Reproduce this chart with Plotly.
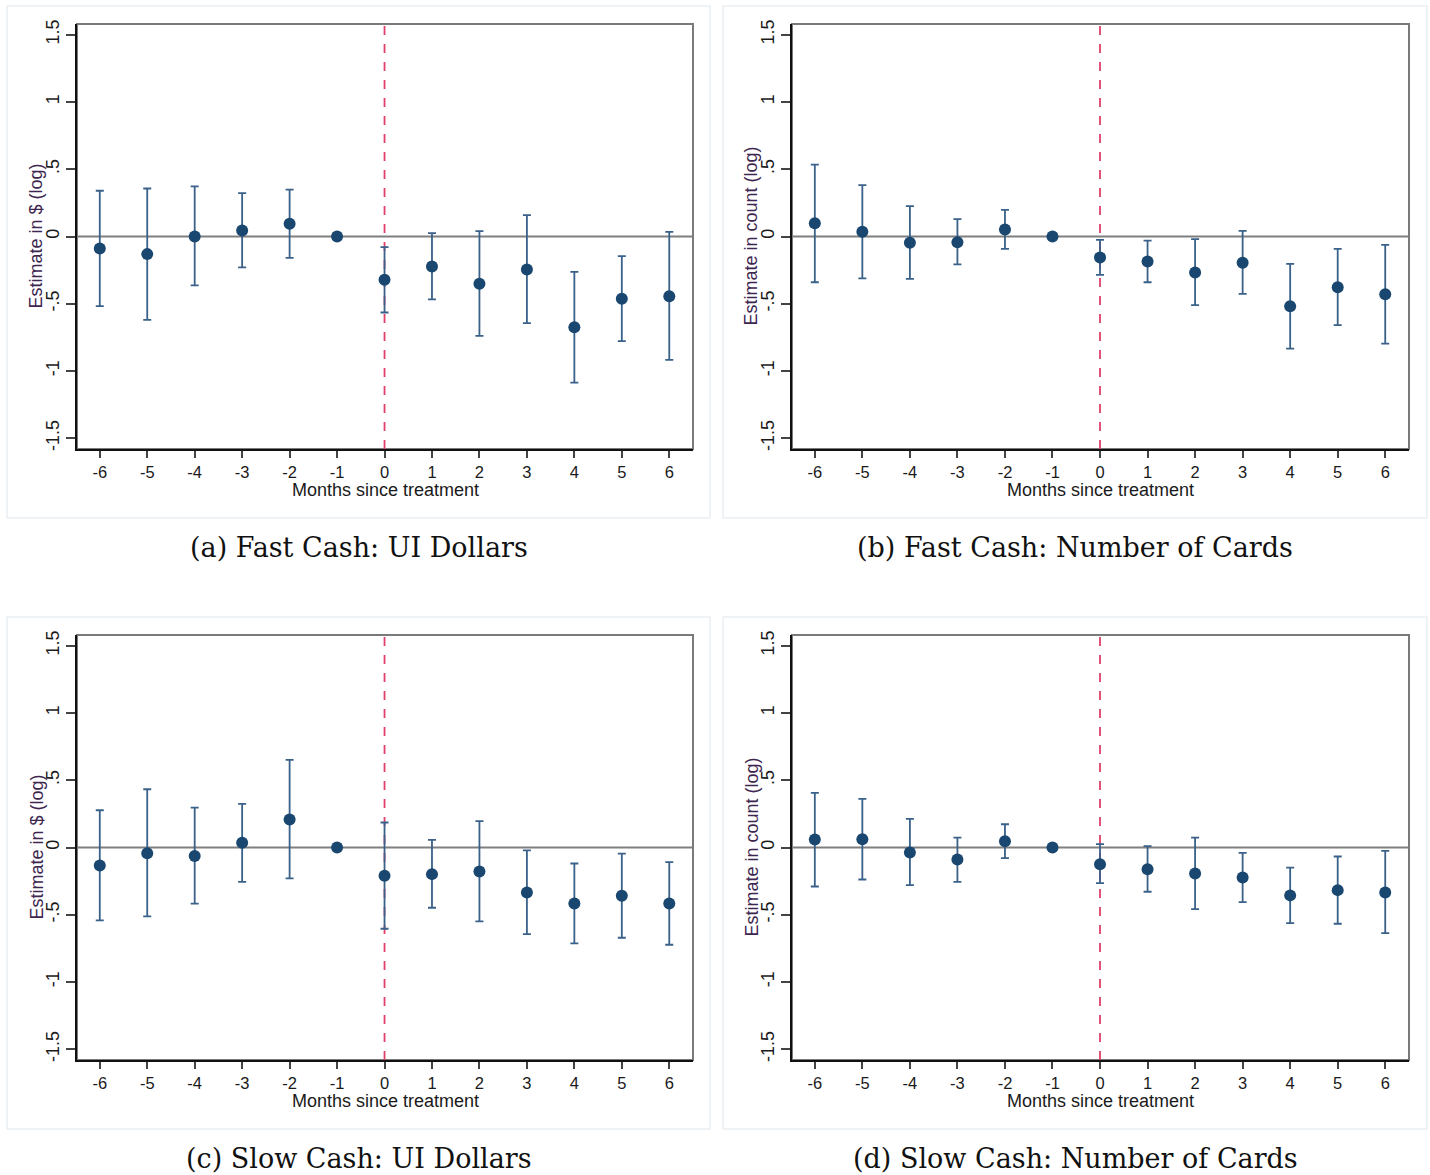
import plotly.graph_objects as go

months = [-6, -5, -4, -3, -2, -1, 0, 1, 2, 3, 4, 5, 6]

# Panel (a) Fast Cash: UI Dollars
a_est = [-0.089, -0.131, 0.0, 0.045, 0.094, 0.0, -0.322, -0.223, -0.352, -0.245, -0.674, -0.463, -0.444]
a_hi = [0.34, 0.357, 0.372, 0.322, 0.349, 0.0, -0.079, 0.025, 0.04, 0.159, -0.263, -0.146, 0.035]
a_lo = [-0.518, -0.62, -0.364, -0.23, -0.159, 0.0, -0.565, -0.468, -0.739, -0.644, -1.086, -0.778, -0.917]

# Panel (b) Fast Cash: Number of Cards
b_est = [0.099, 0.035, -0.047, -0.042, 0.052, 0.0, -0.156, -0.186, -0.268, -0.196, -0.518, -0.377, -0.429]
b_hi = [0.535, 0.382, 0.226, 0.129, 0.198, 0.0, -0.025, -0.03, -0.02, 0.042, -0.203, -0.092, -0.062]
b_lo = [-0.34, -0.312, -0.315, -0.208, -0.092, 0.0, -0.285, -0.34, -0.51, -0.426, -0.833, -0.659, -0.796]

# Panel (c) Slow Cash: UI Dollars
c_est = [-0.134, -0.042, -0.064, 0.035, 0.208, 0.0, -0.21, -0.198, -0.178, -0.334, -0.416, -0.359, -0.416]
c_hi = [0.277, 0.433, 0.297, 0.324, 0.651, 0.0, 0.186, 0.057, 0.196, -0.022, -0.119, -0.045, -0.109]
c_lo = [-0.542, -0.512, -0.418, -0.255, -0.23, 0.0, -0.604, -0.448, -0.55, -0.644, -0.713, -0.671, -0.723]

# Panel (d) Slow Cash: Number of Cards
d_est = [0.059, 0.062, -0.037, -0.089, 0.047, 0.0, -0.124, -0.161, -0.193, -0.223, -0.356, -0.317, -0.334]
d_hi = [0.406, 0.361, 0.213, 0.074, 0.173, 0.0, 0.025, 0.01, 0.074, -0.04, -0.149, -0.067, -0.025]
d_lo = [-0.29, -0.238, -0.28, -0.255, -0.079, 0.0, -0.265, -0.329, -0.458, -0.406, -0.562, -0.567, -0.636]

y_tickvals = [-1.5, -1, -0.5, 0, 0.5, 1, 1.5]
y_ticktext = ["-1.5", "-1", "-.5", "0", ".5", "1", "1.5"]

captions = ["(a) Fast Cash: UI Dollars", "(b) Fast Cash: Number of Cards",
            "(c) Slow Cash: UI Dollars", "(d) Slow Cash: Number of Cards"]
ytitles = ["Estimate in $ (log)", "Estimate in count (log)",
           "Estimate in $ (log)", "Estimate in count (log)"]
xtitle = "Months since treatment"

W, H = 1430, 1175
# plot areas in pixels: (x0, x1, y0, y1)
areas = [(77, 693, 24, 449), (792, 1409, 24, 449), (77, 693, 635, 1060), (792, 1409, 635, 1060)]
frames = [(7, 710, 6, 518), (723, 1427, 6, 518), (7, 710, 617, 1129), (723, 1427, 617, 1129)]
caption_y = [548, 548, 1158, 1158]

panels = [(a_est, a_lo, a_hi), (b_est, b_lo, b_hi), (c_est, c_lo, c_hi), (d_est, d_lo, d_hi)]

NAVY = "#1a476f"
BAR = "#3a6189"
RED = "#e0406a"
SANS = "Liberation Sans, Arial, sans-serif"
SERIF = "DejaVu Serif, serif"

fig = go.Figure()
shapes = []
annotations = []

def px_x(v):
    return v / W

def px_y(v):
    return 1 - v / H

for i, (est, lo, hi) in enumerate(panels):
    n = i + 1
    xa = "x" if n == 1 else f"x{n}"
    ya = "y" if n == 1 else f"y{n}"
    up = [h - e for h, e in zip(hi, est)]
    dn = [e - l for e, l in zip(est, lo)]
    fig.add_trace(go.Scatter(
        x=months, y=est, mode="markers", xaxis=xa, yaxis=ya,
        marker=dict(color=NAVY, size=12),
        error_y=dict(type="data", symmetric=False, array=up, arrayminus=dn,
                     color=BAR, thickness=1.8, width=4),
        showlegend=False, hoverinfo="x+y",
    ))
    x0, x1, y0, y1 = areas[i]
    axkey = "xaxis" if n == 1 else f"xaxis{n}"
    aykey = "yaxis" if n == 1 else f"yaxis{n}"
    fig.layout[axkey] = dict(
        domain=[px_x(x0), px_x(x1)], anchor=ya, range=[-6.48, 6.5],
        tickvals=months, ticktext=[str(m) for m in months],
        ticks="outside", ticklen=7, tickwidth=1.5, tickcolor="#444",
        showline=True, linecolor="#111", linewidth=2, mirror=False,
        showgrid=False, zeroline=False, automargin=False,
        tickfont=dict(family=SANS, size=16.5, color="#1a1a1a"),
    )
    fig.layout[aykey] = dict(
        domain=[px_y(y1), px_y(y0)], anchor=xa, range=[-1.58, 1.58],
        tickvals=y_tickvals, ticktext=y_ticktext, tickangle=-90,
        ticks="outside", ticklen=9, tickwidth=1.5, tickcolor="#444",
        showline=True, linecolor="#111", linewidth=2, mirror=False,
        showgrid=False, zeroline=False, automargin=False,
        tickfont=dict(family=SANS, size=18, color="#1a1a1a"),
    )
    # outer frame
    fx0, fx1, fy0, fy1 = frames[i]
    shapes.append(dict(type="rect", xref="paper", yref="paper",
                       x0=px_x(fx0), x1=px_x(fx1), y0=px_y(fy1), y1=px_y(fy0),
                       line=dict(color="#eaeff2", width=1.5), fillcolor="rgba(0,0,0,0)",
                       layer="below"))
    # plot region outline (top/right gray)
    shapes.append(dict(type="rect", xref=f"{xa} domain", yref=f"{ya} domain",
                       x0=0, x1=1, y0=0, y1=1,
                       line=dict(color="#7a7a7a", width=2), layer="below"))
    # zero line
    shapes.append(dict(type="line", xref=f"{xa} domain", yref=ya,
                       x0=0, x1=1, y0=0, y1=0,
                       line=dict(color="#7f7f7f", width=2), layer="below"))
    # treatment line
    shapes.append(dict(type="line", xref=xa, yref=f"{ya} domain",
                       x0=0, x1=0, y0=0, y1=1,
                       line=dict(color=RED, width=1.8, dash="dash"), layer="below"))
    # y title
    annotations.append(dict(text=ytitles[i], xref="paper", yref="paper",
                            x=px_x(x0 - 41), y=px_y((y0 + y1) / 2),
                            textangle=-90, showarrow=False,
                            font=dict(family=SANS, size=18, color="#3d2650"),
                            xanchor="center", yanchor="middle"))
    # x title
    annotations.append(dict(text=xtitle, xref="paper", yref="paper",
                            x=px_x((x0 + x1) / 2), y=px_y(y1 + 41),
                            showarrow=False,
                            font=dict(family=SANS, size=18, color="#1a1a1a"),
                            xanchor="center", yanchor="middle"))
    # caption
    annotations.append(dict(text=captions[i], xref="paper", yref="paper",
                            x=px_x((fx0 + fx1) / 2), y=px_y(caption_y[i]),
                            showarrow=False,
                            font=dict(family=SERIF, size=27, color="#111"),
                            xanchor="center", yanchor="middle"))

fig.update_layout(
    width=W, height=H, margin=dict(l=0, r=0, t=0, b=0, pad=0, autoexpand=False),
    paper_bgcolor="white", plot_bgcolor="white",
    shapes=shapes, annotations=annotations,
)

fig.write_html("out.html")
